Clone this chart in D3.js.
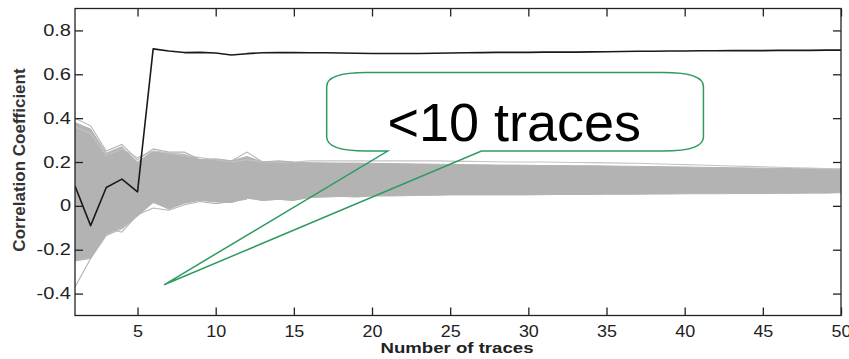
<!DOCTYPE html>
<html>
<head>
<meta charset="utf-8">
<script src="https://cdn.jsdelivr.net/npm/d3@7"></script>
<style>
  html, body { margin: 0; padding: 0; background: #fff; }
  svg { display: block; }
</style>
</head>
<body>
<svg id="chart" width="849" height="359"></svg>
<script>
// ---------------- DATA ----------------
const traceNumbers = [1,2,3,4,5,6,7,8,9,10,11,12,13,14,15,16,17,18,19,20,21,22,23,24,25,26,27,28,29,30,31,32,33,34,35,36,37,38,39,40,41,42,43,44,45,46,47,48,49,50];

// correct-key correlation (black line)
const targetCorr = [0.090,-0.090,0.084,0.122,0.064,0.716,0.706,0.699,0.700,0.697,0.688,0.694,0.698,0.699,0.699,0.698,0.698,0.697,0.696,0.695,0.695,0.695,0.695,0.696,0.697,0.698,0.699,0.700,0.700,0.700,0.701,0.701,0.701,0.702,0.703,0.704,0.705,0.705,0.706,0.706,0.707,0.707,0.708,0.708,0.708,0.709,0.709,0.709,0.710,0.710];

// envelope of the dense bundle of wrong-key traces (grey)
const bandUpper = [0.38,0.35,0.24,0.27,0.20,0.25,0.24,0.235,0.21,0.21,0.205,0.225,0.20,0.20,0.198,0.197,0.196,0.195,0.195,0.194,0.193,0.192,0.191,0.190,0.189,0.188,0.187,0.186,0.186,0.185,0.184,0.184,0.183,0.183,0.182,0.181,0.180,0.179,0.178,0.177,0.176,0.175,0.174,0.173,0.172,0.171,0.170,0.169,0.168,0.167];
const bandLower = [-0.25,-0.235,-0.13,-0.10,-0.045,0.015,-0.012,0.012,0.025,0.018,0.015,0.035,0.025,0.030,0.025,0.038,0.040,0.043,0.040,0.045,0.045,0.046,0.048,0.048,0.050,0.050,0.050,0.050,0.050,0.050,0.051,0.052,0.052,0.052,0.053,0.053,0.053,0.054,0.054,0.055,0.055,0.055,0.056,0.056,0.056,0.057,0.057,0.058,0.058,0.060];

// individual outlying wrong-key traces
const outlierHigh = [0.40,0.365,0.25,0.28,0.21,0.26,0.245,0.245,0.21,0.215,0.205,0.245,0.20,0.205,0.20];
const outlierHighFaint = [0.36,0.33,0.23,0.26,0.22,0.25,0.24,0.23,0.22,0.21,0.20,0.21,0.20,0.20,0.20,0.205,0.205,0.205,0.205,0.205,0.205,0.205,0.205,0.205,0.204,0.203,0.202,0.201,0.200,0.200,0.200,0.199,0.198,0.197,0.196,0.195,0.194,0.192,0.190,0.188,0.186,0.184,0.182,0.180,0.178,0.176,0.174,0.172,0.170,0.169];
const outlierLow = [-0.37,-0.24,-0.135,-0.105,-0.045,0.02,-0.015,0.015,0.03,0.02,0.015,0.04,0.025,0.03,0.025];
const outlierLow2 = [-0.25,-0.24,-0.10,-0.12,-0.04,-0.01,-0.02,0.005,0.02,0.01,0.02,0.03];

const xTicks = [5,10,15,20,25,30,35,40,45,50];
const yTicks = [-0.4,-0.2,0,0.2,0.4,0.6,0.8];
const xTitle = "Number of traces";
const yTitle = "Correlation Coefficient";
const calloutText = "<10 traces";

// ---------------- LAYOUT ----------------
const svg = d3.select("#chart");
svg.append("rect").attr("width", 849).attr("height", 359).attr("fill", "#fff");

const L = 75, R = 841, T = 8.5, B = 315.5;
const x = d3.scaleLinear().domain([1, 50]).range([L, R]);
const y = d3.scaleLinear().domain([-0.5, 0.9]).range([B, T]);

const plot = svg.append("g");
const clip = svg.append("clipPath").attr("id", "clip");
clip.append("rect").attr("x", L).attr("y", T).attr("width", R - L).attr("height", B - T);
plot.attr("clip-path", "url(#clip)");

const grey = "#b3b3b3";

// dense band
const area = d3.area()
  .x((d, i) => x(traceNumbers[i]))
  .y0((d, i) => y(bandLower[i]))
  .y1((d, i) => y(bandUpper[i]));
plot.append("path").datum(bandUpper).attr("d", area).attr("fill", grey).attr("stroke", grey).attr("stroke-width", 1);

const line = d3.line().x((d, i) => x(traceNumbers[i])).y(d => y(d));
[[outlierHighFaint, "#c4c4c4"], [outlierHigh, grey], [outlierLow, grey], [outlierLow2, grey]].forEach(([arr, col]) => {
  plot.append("path").datum(arr).attr("d", line).attr("fill", "none").attr("stroke", col).attr("stroke-width", 1.1);
});

// black trace
plot.append("path").datum(targetCorr).attr("d", line)
  .attr("fill", "none").attr("stroke", "#1a1a1a").attr("stroke-width", 1.6).attr("stroke-linejoin", "round");

// ---------------- AXES ----------------
const tickFont = "'Liberation Sans', Arial, Helvetica, sans-serif";
function stretch(sel, k) {
  sel.each(function () {
    const w = this.getComputedTextLength();
    d3.select(this).attr("textLength", w * k).attr("lengthAdjust", "spacingAndGlyphs");
  });
}

const gx = svg.append("g").attr("transform", `translate(0,${B})`)
  .call(d3.axisBottom(x).tickValues(xTicks).tickSizeInner(-8).tickSizeOuter(0).tickPadding(10).tickFormat(d3.format("d")));
const gy = svg.append("g").attr("transform", `translate(${L},0)`)
  .call(d3.axisLeft(y).tickValues(yTicks).tickSizeInner(-8).tickSizeOuter(0).tickPadding(4)
    .tickFormat(d => d === 0 ? "0" : d3.format(".1f")(d).replace("\u2212", "-")));
const gt = svg.append("g").attr("transform", `translate(0,${T})`)
  .call(d3.axisTop(x).tickValues(xTicks).tickSizeInner(-8).tickSizeOuter(0).tickFormat(""));
const gr = svg.append("g").attr("transform", `translate(${R},0)`)
  .call(d3.axisRight(y).tickValues(yTicks).tickSizeInner(-8).tickSizeOuter(0).tickFormat(""));

[gx, gy, gt, gr].forEach(g => {
  g.select(".domain").remove();
  g.selectAll(".tick line").attr("stroke", "#222").attr("stroke-width", 1.3);
  g.selectAll("text").attr("font-family", tickFont).attr("font-size", 16).attr("fill", "#222");
});
stretch(gy.selectAll(".tick text"), 1.25);
stretch(gx.selectAll(".tick text"), 1.12);

// frame
svg.append("rect").attr("x", L).attr("y", T).attr("width", R - L).attr("height", B - T)
  .attr("fill", "none").attr("stroke", "#222").attr("stroke-width", 1.3);

// titles
const xt = svg.append("text").attr("x", (L + R) / 2 - 1).attr("y", 353)
  .attr("text-anchor", "middle").attr("font-family", tickFont).attr("font-weight", "bold")
  .attr("font-size", 15.5).attr("fill", "#222").text(xTitle);
xt.attr("textLength", 153).attr("lengthAdjust", "spacingAndGlyphs");

svg.append("text").attr("transform", `translate(25,160) rotate(-90)`)
  .attr("text-anchor", "middle").attr("font-family", tickFont).attr("font-weight", "bold")
  .attr("font-size", 17).attr("fill", "#333").text(yTitle);

// ---------------- CALLOUT ----------------
const green = "#2f9a60";
const box = { n0: 17.1, n1: 41.2, v0: 0.25, v1: 0.608 };
const base = { nA: 21.0, nB: 27.0 };
const tip = { n: 6.7, v: -0.36 };
const bx0 = x(box.n0), bx1 = x(box.n1), by0 = y(box.v1), by1 = y(box.v0);
const rx = 40, ry = 14;
const p = d3.path();
p.moveTo(bx0 + rx, by0);
p.lineTo(bx1 - rx, by0);
p.quadraticCurveTo(bx1, by0, bx1, by0 + ry);
p.lineTo(bx1, by1 - ry);
p.quadraticCurveTo(bx1, by1, bx1 - rx, by1);
p.lineTo(x(base.nB), by1);
p.lineTo(x(tip.n), y(tip.v));
p.lineTo(x(base.nA), by1);
p.lineTo(bx0 + rx, by1);
p.quadraticCurveTo(bx0, by1, bx0, by1 - ry);
p.lineTo(bx0, by0 + ry);
p.quadraticCurveTo(bx0, by0, bx0 + rx, by0);
p.closePath();
svg.append("path").attr("d", p.toString()).attr("fill", "none")
  .attr("stroke", green).attr("stroke-width", 1.5).attr("stroke-linejoin", "miter");

svg.append("text").attr("x", x(29.1)).attr("y", y(0.296))
  .attr("text-anchor", "middle").attr("font-family", "'Liberation Sans', Arial, sans-serif")
  .attr("font-size", 54).attr("fill", "#000").text(calloutText);
</script>
</body>
</html>
